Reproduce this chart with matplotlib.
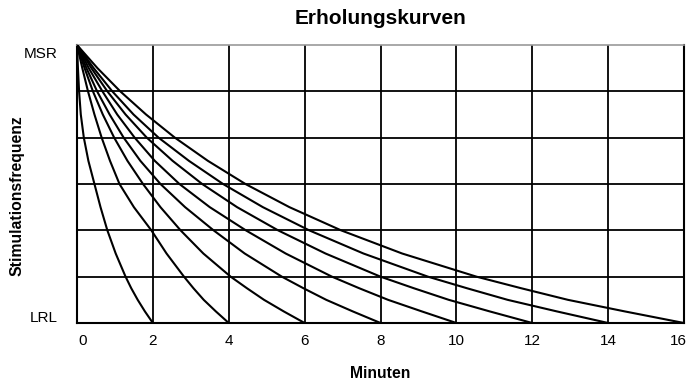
import matplotlib.pyplot as plt
from matplotlib.transforms import ScaledTranslation

plt.rcParams["font.family"] = ["Liberation Sans", "DejaVu Sans"]

# Stimulation level steps between LRL (0) and MSR (6)
levels = [6, 5.5, 5, 4.5, 4, 3.5, 3, 2.5, 2, 1.5, 1, 0.75, 0.5, 0.25, 0]

# Minutes at which each recovery curve reaches the levels above
recovery_2 = [0, 0.025, 0.055, 0.10, 0.18, 0.30, 0.46, 0.62, 0.80, 1.02, 1.28, 1.43, 1.60, 1.79, 2]
recovery_4 = [0, 0.14, 0.29, 0.46, 0.65, 0.87, 1.12, 1.50, 1.96, 2.36, 2.82, 3.07, 3.34, 3.66, 4]
recovery_6 = [0, 0.20, 0.42, 0.68, 0.98, 1.33, 1.74, 2.20, 2.73, 3.33, 4.05, 4.48, 4.93, 5.45, 6]
recovery_8 = [0, 0.25, 0.53, 0.86, 1.23, 1.67, 2.20, 2.85, 3.60, 4.42, 5.40, 5.97, 6.57, 7.27, 8]
recovery_10 = [0, 0.31, 0.67, 1.06, 1.52, 2.05, 2.70, 3.50, 4.45, 5.50, 6.72, 7.44, 8.20, 9.09, 10]
recovery_12 = [0, 0.38, 0.80, 1.28, 1.84, 2.52, 3.30, 4.22, 5.30, 6.55, 8.00, 8.88, 9.80, 10.88, 12]
recovery_14 = [0, 0.44, 0.93, 1.49, 2.15, 2.95, 3.85, 4.90, 6.12, 7.55, 9.25, 10.28, 11.35, 12.65, 14]
recovery_16 = [0, 0.54, 1.14, 1.82, 2.58, 3.45, 4.44, 5.60, 6.96, 8.57, 10.53, 11.71, 12.94, 14.44, 16]

curves = [recovery_2, recovery_4, recovery_6, recovery_8,
          recovery_10, recovery_12, recovery_14, recovery_16]

x_ticks = [0, 2, 4, 6, 8, 10, 12, 14, 16]
y_grid = [1, 2, 3, 4, 5]

W, H = 689, 385
fig = plt.figure(figsize=(W / 100, H / 100), dpi=100)
ax = fig.add_axes([77 / W, 1 - 323 / H, 607 / W, 278 / H])

for x in x_ticks[1:-1]:
    ax.axvline(x, color="black", linewidth=1.3, zorder=1)
for y in y_grid:
    ax.axhline(y, color="black", linewidth=1.3, zorder=1)

for minutes in curves:
    ax.plot(minutes, levels, color="black", linewidth=1.5,
            solid_joinstyle="round", zorder=3)

ax.set_xlim(0, 16)
ax.set_ylim(0, 6)
ax.set_xticks(x_ticks)
ax.set_xticklabels([str(v) for v in x_ticks], fontsize=11)
ax.set_yticks([])
ax.tick_params(axis="x", length=0, pad=8)

# keep the end labels inside the plot width
tick_labels = ax.get_xticklabels()
tick_labels[0].set_transform(tick_labels[0].get_transform()
                             + ScaledTranslation(4 / 72, 0, fig.dpi_scale_trans))
tick_labels[-1].set_transform(tick_labels[-1].get_transform()
                              + ScaledTranslation(-4 / 72, 0, fig.dpi_scale_trans))

for side in ["left", "right", "bottom"]:
    ax.spines[side].set_linewidth(1.5)
    ax.spines[side].set_color("black")
ax.spines["top"].set_linewidth(1.2)
ax.spines["top"].set_color("#9a9a9a")

fig.text(57.5 / W, 1 - 58.3 / H, "MSR", ha="right", va="baseline", fontsize=11)
fig.text(57.5 / W, 1 - 321.7 / H, "LRL", ha="right", va="baseline", fontsize=11)

fig.text(380 / W, 1 - 23.5 / H, "Erholungskurven", ha="center", va="baseline",
         fontsize=15, fontweight="bold")
fig.text(380 / W, 1 - 378.3 / H, "Minuten", ha="center", va="baseline",
         fontsize=11.3, fontweight="bold")
fig.text(16.7 / W, 1 - 196 / H, "Stimulationsfrequenz", ha="center",
         va="center", rotation=90, fontsize=11.3, fontweight="bold")

fig.savefig("out.png", dpi=100)
